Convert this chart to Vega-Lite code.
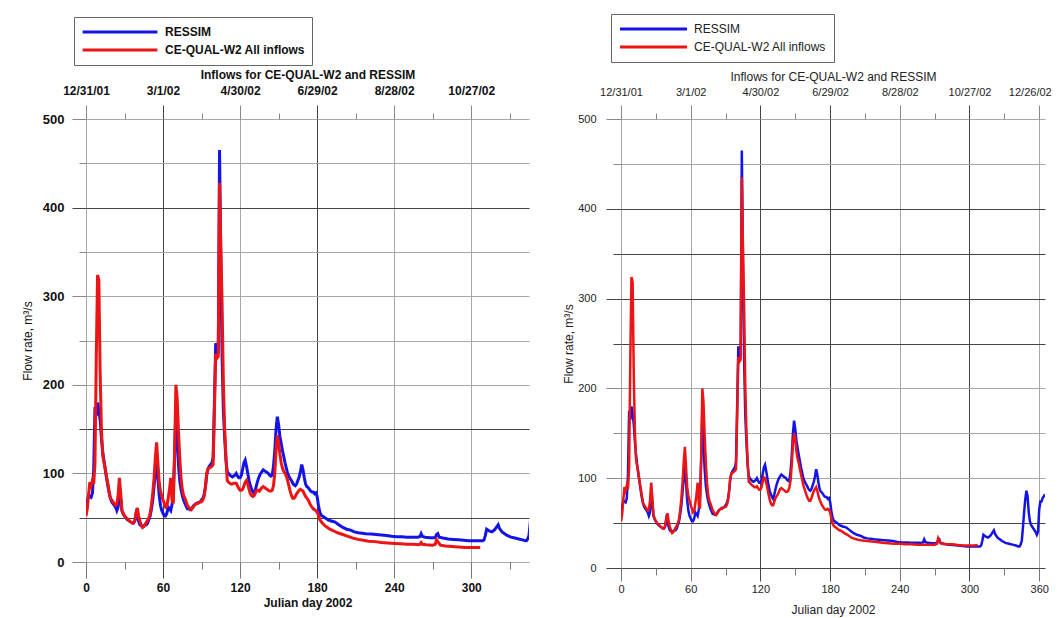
{
"$schema": "https://vega.github.io/schema/vega-lite/v6.json",
"background": "white",
"padding": {"left": 21, "top": 13, "right": 5, "bottom": 5},
"spacing": 33,
"config": {"view": {"stroke": null}, "font": "Liberation Sans"},
"resolve": {"scale": {"color": "independent"}, "legend": {"color": "independent"}},
"datasets": {
"ressim": [
{"day":0,"flow":58},{"day":1,"flow":68},{"day":2,"flow":75},{"day":3,"flow":74},{"day":4,"flow":73},{"day":5,"flow":78},{"day":6,"flow":104},{"day":7,"flow":175},{"day":8,"flow":165},{"day":9,"flow":180},{"day":10,"flow":172},{"day":11,"flow":160},{"day":12,"flow":140},{"day":13,"flow":125},{"day":14,"flow":114},{"day":15,"flow":104},{"day":16,"flow":95},{"day":17,"flow":86},{"day":18,"flow":78},{"day":19,"flow":72},{"day":20,"flow":68},{"day":21,"flow":66},{"day":22,"flow":64},{"day":23,"flow":62},{"day":24,"flow":58},{"day":25,"flow":62},{"day":26,"flow":85},{"day":27,"flow":72},{"day":28,"flow":58},{"day":29,"flow":54},{"day":30,"flow":52},{"day":31,"flow":50},{"day":32,"flow":48},{"day":33,"flow":47},{"day":34,"flow":46},{"day":35,"flow":45},{"day":36,"flow":44},{"day":37,"flow":44},{"day":38,"flow":46},{"day":39,"flow":55},{"day":40,"flow":52},{"day":41,"flow":46},{"day":42,"flow":42},{"day":43,"flow":41},{"day":44,"flow":40},{"day":45,"flow":41},{"day":46,"flow":42},{"day":47,"flow":42},{"day":48,"flow":44},{"day":49,"flow":48},{"day":50,"flow":52},{"day":51,"flow":60},{"day":52,"flow":70},{"day":53,"flow":85},{"day":54,"flow":100},{"day":55,"flow":115},{"day":56,"flow":95},{"day":57,"flow":75},{"day":58,"flow":64},{"day":59,"flow":58},{"day":60,"flow":55},{"day":61,"flow":52},{"day":62,"flow":52},{"day":63,"flow":55},{"day":64,"flow":62},{"day":65,"flow":60},{"day":66,"flow":58},{"day":67,"flow":65},{"day":68,"flow":80},{"day":69,"flow":120},{"day":70,"flow":175},{"day":71,"flow":140},{"day":72,"flow":110},{"day":73,"flow":92},{"day":74,"flow":82},{"day":75,"flow":75},{"day":76,"flow":70},{"day":77,"flow":66},{"day":78,"flow":63},{"day":79,"flow":60},{"day":80,"flow":60},{"day":81,"flow":59},{"day":82,"flow":60},{"day":83,"flow":62},{"day":84,"flow":64},{"day":85,"flow":65},{"day":86,"flow":66},{"day":87,"flow":67},{"day":88,"flow":67},{"day":89,"flow":68},{"day":90,"flow":70},{"day":91,"flow":72},{"day":92,"flow":76},{"day":93,"flow":85},{"day":94,"flow":98},{"day":95,"flow":105},{"day":96,"flow":108},{"day":97,"flow":110},{"day":98,"flow":112},{"day":99,"flow":118},{"day":100,"flow":180},{"day":101,"flow":247},{"day":102,"flow":240},{"day":103,"flow":235},{"day":104,"flow":465},{"day":105,"flow":340},{"day":106,"flow":230},{"day":107,"flow":170},{"day":108,"flow":140},{"day":109,"flow":115},{"day":110,"flow":102},
{"day":111,"flow":100},{"day":112,"flow":98},{"day":113,"flow":97},{"day":114,"flow":96},{"day":115,"flow":97},{"day":116,"flow":98},{"day":117,"flow":100},{"day":118,"flow":97},{"day":119,"flow":95},{"day":120,"flow":95},{"day":121,"flow":98},{"day":122,"flow":105},{"day":123,"flow":112},{"day":124,"flow":115},{"day":125,"flow":108},{"day":126,"flow":100},{"day":127,"flow":92},{"day":128,"flow":86},{"day":129,"flow":82},{"day":130,"flow":79},{"day":131,"flow":77},{"day":132,"flow":82},{"day":133,"flow":88},{"day":134,"flow":93},{"day":135,"flow":97},{"day":136,"flow":100},{"day":137,"flow":102},{"day":138,"flow":104},{"day":139,"flow":103},{"day":140,"flow":102},{"day":141,"flow":101},{"day":142,"flow":100},{"day":143,"flow":98},{"day":144,"flow":97},{"day":145,"flow":98},{"day":146,"flow":108},{"day":147,"flow":125},{"day":148,"flow":150},{"day":149,"flow":164},{"day":150,"flow":155},{"day":151,"flow":142},{"day":152,"flow":134},{"day":153,"flow":126},{"day":154,"flow":119},{"day":155,"flow":112},{"day":156,"flow":106},{"day":157,"flow":100},{"day":158,"flow":97},{"day":159,"flow":94},{"day":160,"flow":92},{"day":161,"flow":89},{"day":162,"flow":87},{"day":163,"flow":86},{"day":164,"flow":88},{"day":165,"flow":92},{"day":166,"flow":96},{"day":167,"flow":102},{"day":168,"flow":110},{"day":169,"flow":104},{"day":170,"flow":95},{"day":171,"flow":88},{"day":172,"flow":85},{"day":173,"flow":84},{"day":174,"flow":82},{"day":175,"flow":80},{"day":176,"flow":79},{"day":177,"flow":79},{"day":178,"flow":77},{"day":179,"flow":78},{"day":180,"flow":74},{"day":181,"flow":64},{"day":182,"flow":57},{"day":183,"flow":53},{"day":184,"flow":52},{"day":185,"flow":51},{"day":186,"flow":50},{"day":187,"flow":49},{"day":188,"flow":48},{"day":189,"flow":47},{"day":190,"flow":47},{"day":191,"flow":46},{"day":192,"flow":46},{"day":194,"flow":45},{"day":196,"flow":43},{"day":198,"flow":41},{"day":200,"flow":39},{"day":203,"flow":37},{"day":206,"flow":36},{"day":209,"flow":34},{"day":212,"flow":33},{"day":215,"flow":32.5},{"day":218,"flow":32},{"day":222,"flow":31.5},{"day":226,"flow":31},{"day":230,"flow":30.5},{"day":234,"flow":30},{"day":238,"flow":29},{"day":242,"flow":28.5},{"day":246,"flow":28.5},{"day":250,"flow":28},{"day":254,"flow":28},{"day":258,"flow":28},{"day":260,"flow":28.5},{"day":261,"flow":32},{"day":262,"flow":29},{"day":264,"flow":28},{"day":268,"flow":27.5},{"day":272,"flow":27.5},{"day":273,"flow":31},{"day":274,"flow":32},{"day":275,"flow":28},{"day":278,"flow":27},{"day":282,"flow":26},{"day":286,"flow":25.5},{"day":290,"flow":25},{"day":294,"flow":24.5},{"day":298,"flow":24},{"day":302,"flow":24},{"day":306,"flow":24},{"day":309,"flow":24},{"day":310,"flow":25},{"day":311,"flow":30},{"day":312,"flow":37},{"day":313,"flow":36},{"day":314,"flow":35},{"day":316,"flow":34},{"day":318,"flow":36},{"day":320,"flow":40},{"day":321,"flow":42},{"day":322,"flow":38},{"day":324,"flow":34},{"day":326,"flow":32},{"day":328,"flow":30},{"day":331,"flow":28},{"day":334,"flow":27},{"day":337,"flow":26},{"day":340,"flow":25},{"day":342,"flow":24},{"day":343,"flow":24},{"day":344,"flow":26},{"day":345,"flow":30},{"day":346,"flow":45},{"day":347,"flow":62},{"day":348,"flow":76},{"day":349,"flow":86},{"day":350,"flow":80},{"day":351,"flow":62},{"day":352,"flow":52},{"day":353,"flow":48},{"day":355,"flow":44},{"day":357,"flow":40},{"day":358,"flow":37},{"day":359,"flow":40},{"day":360,"flow":65},{"day":361,"flow":74},{"day":362,"flow":74},{"day":363,"flow":78},{"day":365,"flow":82}
],
"w2_left": [
{"day":0,"flow":52},{"day":1,"flow":60},{"day":2,"flow":76},{"day":3,"flow":90},{"day":4,"flow":86},{"day":5,"flow":92},{"day":6,"flow":88},{"day":7,"flow":112},{"day":8,"flow":230},{"day":9,"flow":324},{"day":10,"flow":318},{"day":11,"flow":215},{"day":12,"flow":150},{"day":13,"flow":120},{"day":14,"flow":113},{"day":15,"flow":106},{"day":16,"flow":96},{"day":17,"flow":89},{"day":18,"flow":80},{"day":19,"flow":72},{"day":20,"flow":70},{"day":21,"flow":68},{"day":22,"flow":66},{"day":23,"flow":64},{"day":24,"flow":65},{"day":25,"flow":75},{"day":26,"flow":95},{"day":27,"flow":78},{"day":28,"flow":58},{"day":29,"flow":55},{"day":30,"flow":52},{"day":31,"flow":50},{"day":32,"flow":49},{"day":33,"flow":48},{"day":34,"flow":46},{"day":35,"flow":45},{"day":36,"flow":44},{"day":37,"flow":44},{"day":38,"flow":47},{"day":39,"flow":55},{"day":40,"flow":61},{"day":41,"flow":52},{"day":42,"flow":46},{"day":43,"flow":42},{"day":44,"flow":39},{"day":45,"flow":40},{"day":46,"flow":42},{"day":47,"flow":45},{"day":48,"flow":47},{"day":49,"flow":50},{"day":50,"flow":55},{"day":51,"flow":65},{"day":52,"flow":78},{"day":53,"flow":95},{"day":54,"flow":118},{"day":55,"flow":135},{"day":56,"flow":112},{"day":57,"flow":90},{"day":58,"flow":80},{"day":59,"flow":75},{"day":60,"flow":70},{"day":61,"flow":66},{"day":62,"flow":62},{"day":63,"flow":63},{"day":64,"flow":72},{"day":65,"flow":82},{"day":66,"flow":95},{"day":67,"flow":70},{"day":68,"flow":66},{"day":69,"flow":120},{"day":70,"flow":200},{"day":71,"flow":185},{"day":72,"flow":148},{"day":73,"flow":118},{"day":74,"flow":95},{"day":75,"flow":82},{"day":76,"flow":75},{"day":77,"flow":72},{"day":78,"flow":68},{"day":79,"flow":64},{"day":80,"flow":62},{"day":81,"flow":60},{"day":82,"flow":59},{"day":83,"flow":61},{"day":84,"flow":63},{"day":85,"flow":65},{"day":86,"flow":66},{"day":87,"flow":66},{"day":88,"flow":67},{"day":89,"flow":68},{"day":90,"flow":68},{"day":91,"flow":70},{"day":92,"flow":74},{"day":93,"flow":84},{"day":94,"flow":100},{"day":95,"flow":105},{"day":96,"flow":106},{"day":97,"flow":107},{"day":98,"flow":108},{"day":99,"flow":110},{"day":100,"flow":170},{"day":101,"flow":235},{"day":102,"flow":230},{"day":103,"flow":232},{"day":104,"flow":428},{"day":105,"flow":355},{"day":106,"flow":290},{"day":107,"flow":200},{"day":108,"flow":150},{"day":109,"flow":118},
{"day":110,"flow":92},{"day":111,"flow":90},{"day":112,"flow":89},{"day":113,"flow":88},{"day":114,"flow":88},{"day":115,"flow":89},{"day":116,"flow":89},{"day":117,"flow":89},{"day":118,"flow":86},{"day":119,"flow":83},{"day":120,"flow":81},{"day":121,"flow":81},{"day":122,"flow":82},{"day":123,"flow":86},{"day":124,"flow":90},{"day":125,"flow":92},{"day":126,"flow":88},{"day":127,"flow":82},{"day":128,"flow":77},{"day":129,"flow":75},{"day":130,"flow":74},{"day":131,"flow":75},{"day":132,"flow":78},{"day":133,"flow":81},{"day":134,"flow":81},{"day":135,"flow":80},{"day":136,"flow":82},{"day":137,"flow":84},{"day":138,"flow":85},{"day":139,"flow":84},{"day":140,"flow":83},{"day":141,"flow":82},{"day":142,"flow":81},{"day":143,"flow":80},{"day":144,"flow":80},{"day":145,"flow":81},{"day":146,"flow":86},{"day":147,"flow":100},{"day":148,"flow":125},{"day":149,"flow":143},{"day":150,"flow":135},{"day":151,"flow":122},{"day":152,"flow":112},{"day":153,"flow":106},{"day":154,"flow":102},{"day":155,"flow":100},{"day":156,"flow":97},{"day":157,"flow":92},{"day":158,"flow":86},{"day":159,"flow":80},{"day":160,"flow":75},{"day":161,"flow":72},{"day":162,"flow":72},{"day":163,"flow":74},{"day":164,"flow":77},{"day":165,"flow":79},{"day":166,"flow":81},{"day":167,"flow":82},{"day":168,"flow":81},{"day":169,"flow":80},{"day":170,"flow":77},{"day":171,"flow":74},{"day":172,"flow":72},{"day":173,"flow":70},{"day":174,"flow":67},{"day":175,"flow":64},{"day":176,"flow":62},{"day":177,"flow":60},{"day":178,"flow":59},{"day":179,"flow":58},{"day":180,"flow":56},{"day":181,"flow":53},{"day":182,"flow":48},{"day":184,"flow":44},{"day":186,"flow":41},{"day":188,"flow":39},{"day":190,"flow":37},{"day":193,"flow":35},{"day":196,"flow":33},{"day":200,"flow":31},{"day":204,"flow":29},{"day":208,"flow":27},{"day":212,"flow":25.5},{"day":216,"flow":24.5},{"day":220,"flow":23.5},{"day":225,"flow":23},{"day":230,"flow":22},{"day":235,"flow":21.5},{"day":240,"flow":21},{"day":245,"flow":20.5},{"day":250,"flow":20},{"day":255,"flow":20},{"day":259,"flow":19.5},{"day":260,"flow":20},{"day":261,"flow":22},{"day":262,"flow":20},{"day":265,"flow":19.5},{"day":270,"flow":19},{"day":272,"flow":20},{"day":273,"flow":25},{"day":274,"flow":23},{"day":276,"flow":19},{"day":280,"flow":18},{"day":285,"flow":17.5},{"day":290,"flow":17},{"day":295,"flow":16.5},{"day":300,"flow":16.5},{"day":304,"flow":16.5},{"day":307,"flow":16.5}
],
"w2_right": [
{"day":0,"flow":52},{"day":1,"flow":60},{"day":2,"flow":76},{"day":3,"flow":90},{"day":4,"flow":86},{"day":5,"flow":92},{"day":6,"flow":88},{"day":7,"flow":112},{"day":8,"flow":230},{"day":9,"flow":324},{"day":10,"flow":318},{"day":11,"flow":215},{"day":12,"flow":150},{"day":13,"flow":120},{"day":14,"flow":113},{"day":15,"flow":106},{"day":16,"flow":96},{"day":17,"flow":89},{"day":18,"flow":80},{"day":19,"flow":72},{"day":20,"flow":70},{"day":21,"flow":68},{"day":22,"flow":66},{"day":23,"flow":64},{"day":24,"flow":65},{"day":25,"flow":75},{"day":26,"flow":95},{"day":27,"flow":78},{"day":28,"flow":58},{"day":29,"flow":55},{"day":30,"flow":52},{"day":31,"flow":50},{"day":32,"flow":49},{"day":33,"flow":48},{"day":34,"flow":46},{"day":35,"flow":45},{"day":36,"flow":44},{"day":37,"flow":44},{"day":38,"flow":47},{"day":39,"flow":55},{"day":40,"flow":61},{"day":41,"flow":52},{"day":42,"flow":46},{"day":43,"flow":42},{"day":44,"flow":39},{"day":45,"flow":40},{"day":46,"flow":42},{"day":47,"flow":45},{"day":48,"flow":47},{"day":49,"flow":50},{"day":50,"flow":55},{"day":51,"flow":65},{"day":52,"flow":78},{"day":53,"flow":95},{"day":54,"flow":118},{"day":55,"flow":135},{"day":56,"flow":112},{"day":57,"flow":90},{"day":58,"flow":80},{"day":59,"flow":75},{"day":60,"flow":70},{"day":61,"flow":66},{"day":62,"flow":62},{"day":63,"flow":63},{"day":64,"flow":72},{"day":65,"flow":82},{"day":66,"flow":95},{"day":67,"flow":70},{"day":68,"flow":66},{"day":69,"flow":120},{"day":70,"flow":200},{"day":71,"flow":185},{"day":72,"flow":148},{"day":73,"flow":118},{"day":74,"flow":95},{"day":75,"flow":82},{"day":76,"flow":75},{"day":77,"flow":72},{"day":78,"flow":68},{"day":79,"flow":64},{"day":80,"flow":62},{"day":81,"flow":60},{"day":82,"flow":59},{"day":83,"flow":61},{"day":84,"flow":63},{"day":85,"flow":65},{"day":86,"flow":66},{"day":87,"flow":66},{"day":88,"flow":67},{"day":89,"flow":68},{"day":90,"flow":68},{"day":91,"flow":70},{"day":92,"flow":74},{"day":93,"flow":84},{"day":94,"flow":100},{"day":95,"flow":105},{"day":96,"flow":106},{"day":97,"flow":107},{"day":98,"flow":108},{"day":99,"flow":110},{"day":100,"flow":170},{"day":101,"flow":235},{"day":102,"flow":230},{"day":103,"flow":232},{"day":104,"flow":435},{"day":105,"flow":355},{"day":106,"flow":290},{"day":107,"flow":200},{"day":108,"flow":150},{"day":109,"flow":118},
{"day":110,"flow":96},{"day":111,"flow":95},{"day":112,"flow":93},{"day":113,"flow":92},{"day":114,"flow":91},{"day":115,"flow":90},{"day":116,"flow":90},{"day":117,"flow":91},{"day":118,"flow":89},{"day":119,"flow":87},{"day":120,"flow":87},{"day":121,"flow":90},{"day":122,"flow":96},{"day":123,"flow":101},{"day":124,"flow":100},{"day":125,"flow":95},{"day":126,"flow":89},{"day":127,"flow":82},{"day":128,"flow":76},{"day":129,"flow":72},{"day":130,"flow":70},{"day":131,"flow":70},{"day":132,"flow":74},{"day":133,"flow":78},{"day":134,"flow":80},{"day":135,"flow":82},{"day":136,"flow":85},{"day":137,"flow":88},{"day":138,"flow":89},{"day":139,"flow":88},{"day":140,"flow":87},{"day":141,"flow":86},{"day":142,"flow":85},{"day":143,"flow":85},{"day":144,"flow":86},{"day":145,"flow":90},{"day":146,"flow":98},{"day":147,"flow":115},{"day":148,"flow":138},{"day":149,"flow":150},{"day":150,"flow":145},{"day":151,"flow":130},{"day":152,"flow":122},{"day":153,"flow":117},{"day":154,"flow":110},{"day":155,"flow":104},{"day":156,"flow":98},{"day":157,"flow":92},{"day":158,"flow":88},{"day":159,"flow":84},{"day":160,"flow":80},{"day":161,"flow":77},{"day":162,"flow":75},{"day":163,"flow":75},{"day":164,"flow":78},{"day":165,"flow":82},{"day":166,"flow":86},{"day":167,"flow":88},{"day":168,"flow":90},{"day":169,"flow":86},{"day":170,"flow":80},{"day":171,"flow":76},{"day":172,"flow":73},{"day":173,"flow":70},{"day":174,"flow":68},{"day":175,"flow":66},{"day":176,"flow":65},{"day":177,"flow":65},{"day":178,"flow":66},{"day":179,"flow":65},{"day":180,"flow":62},{"day":181,"flow":56},{"day":182,"flow":50},{"day":183,"flow":47},{"day":184,"flow":46},{"day":185,"flow":45},{"day":186,"flow":44},{"day":188,"flow":42},{"day":190,"flow":41},{"day":192,"flow":39},{"day":195,"flow":37},{"day":198,"flow":34},{"day":200,"flow":33},{"day":204,"flow":31.5},{"day":208,"flow":30.5},{"day":212,"flow":30},{"day":216,"flow":29.5},{"day":220,"flow":29},{"day":225,"flow":28},{"day":230,"flow":27.5},{"day":235,"flow":27},{"day":240,"flow":27},{"day":245,"flow":26.5},{"day":250,"flow":26.5},{"day":255,"flow":26},{"day":260,"flow":26},{"day":262,"flow":26},{"day":266,"flow":26},{"day":270,"flow":26},{"day":272,"flow":27},{"day":273,"flow":33},{"day":274,"flow":30},{"day":276,"flow":27},{"day":280,"flow":26.5},{"day":285,"flow":26.5},{"day":290,"flow":25.5},{"day":295,"flow":25},{"day":300,"flow":25},{"day":304,"flow":25},{"day":307,"flow":25.5}
]
},
"hconcat": [
{
"width": 443, "height": 443,
"resolve": {"axis": {"x": "independent"}},
"layer": [
{
"data": {"name": "ressim"},
"mark": {"type": "line", "strokeWidth": 3, "clip": true},
"encoding": {
"x": {"field": "day", "type": "quantitative", "scale": {"domain": [0, 345], "nice": false, "zero": false},
 "axis": {"orient": "bottom", "values": [0,30,60,90,120,150,180,210,240,270,300,330], "title": "Julian day 2002",
  "labelExpr": "datum.value % 60 === 0 ? datum.label : ''", "domain": false, "grid": true,
  "gridColor": {"condition": {"test": "datum.value === 60 || datum.value === 180", "value": "#444444"}, "value": "#a8a8a8"},
  "gridOpacity": {"condition": {"test": "datum.value % 60 === 0", "value": 1}, "value": 0},
  "tickSize": {"condition": {"test": "datum.value % 60 === 0", "value": 16}, "value": 7},
  "tickColor": {"condition": {"test": "datum.value === 60 || datum.value === 180", "value": "#444444"}, "value": "#777777"},
  "labelFontSize": 12, "labelFontWeight": "bold", "labelColor": "#111", "labelPadding": 4, "labelFlush": false, "labelOverlap": false,
  "titleFontSize": 12, "titleFontWeight": "bold", "titleColor": "#111", "titlePadding": 4}},
"y": {"field": "flow", "type": "quantitative", "scale": {"domain": [0, 500], "nice": false},
 "axis": {"values": [0,50,100,150,200,250,300,350,400,450,500], "title": "Flow rate, m³/s",
  "labelExpr": "datum.value % 100 === 0 ? datum.label : ''", "domain": false, "grid": true,
  "gridColor": {"condition": {"test": "datum.value === 50 || datum.value === 150 || datum.value === 400", "value": "#444444"}, "value": "#a8a8a8"},
  "tickSize": {"condition": {"test": "datum.value % 100 === 0", "value": 14}, "value": 7},
  "tickColor": {"condition": {"test": "datum.value === 50 || datum.value === 150 || datum.value === 400", "value": "#444444"}, "value": "#888888"},
  "labelFontSize": 13, "labelFontWeight": "bold", "labelColor": "#111", "labelPadding": 8, "labelFlush": false, "labelOverlap": false,
  "titleFontSize": 12, "titleFontWeight": "normal", "titleColor": "#111", "titlePadding": 8}},
"color": {"datum": "RESSIM", "scale": {"domain": ["RESSIM", "CE-QUAL-W2 All inflows"], "range": ["#1414e6", "#ec1414"]},
 "legend": {"orient": "none", "legendX": -12, "legendY": -102, "title": null, "direction": "vertical",
  "symbolType": "stroke", "symbolSize": 5600, "symbolStrokeWidth": 3, "clipHeight": 16, "rowPadding": 2,
  "labelFontSize": 12, "labelFontWeight": "bold", "labelColor": "#111", "labelOffset": 6, "padding": 7,
  "strokeColor": "#666666", "fillColor": "white"}}
}
},
{
"data": {"name": "w2_left"},
"mark": {"type": "line", "strokeWidth": 3, "clip": true},
"encoding": {
"x": {"field": "day", "type": "quantitative", "scale": {"domain": [0, 345], "nice": false, "zero": false},
 "axis": {"orient": "top", "values": [0,30,60,90,120,150,180,210,240,270,300,330], "title": "Inflows for CE-QUAL-W2 and RESSIM",
  "labelExpr": "datum.value === 0 ? '12/31/01' : datum.value === 60 ? '3/1/02' : datum.value === 120 ? '4/30/02' : datum.value === 180 ? '6/29/02' : datum.value === 240 ? '8/28/02' : datum.value === 300 ? '10/27/02' : ''",
  "domain": false, "grid": false,
  "tickSize": {"condition": {"test": "datum.value % 60 === 0", "value": 14}, "value": 6},
  "tickColor": {"condition": {"test": "datum.value === 60 || datum.value === 180", "value": "#444444"}, "value": "#888888"},
  "labelFontSize": 12, "labelFontWeight": "bold", "labelColor": "#111", "labelPadding": 8, "labelFlush": false, "labelOverlap": false,
  "titleFontSize": 12, "titleFontWeight": "bold", "titleColor": "#111", "titlePadding": 3}},
"y": {"field": "flow", "type": "quantitative", "scale": {"domain": [0, 500], "nice": false}},
"color": {"datum": "CE-QUAL-W2 All inflows"}
}
}
]
},
{
"width": 424, "height": 449,
"resolve": {"axis": {"x": "independent"}},
"layer": [
{
"data": {"name": "ressim"},
"mark": {"type": "line", "strokeWidth": 2.5, "clip": true},
"encoding": {
"x": {"field": "day", "type": "quantitative", "scale": {"domain": [0, 365], "nice": false, "zero": false},
 "axis": {"orient": "bottom", "values": [0,30,60,90,120,150,180,210,240,270,300,330,360], "title": "Julian day 2002",
  "labelExpr": "datum.value % 60 === 0 ? datum.label : ''", "domain": false, "grid": true,
  "gridColor": {"condition": {"test": "datum.value === 120 || datum.value === 180 || datum.value === 300", "value": "#444444"}, "value": "#a8a8a8"},
  "gridOpacity": {"condition": {"test": "datum.value % 60 === 0", "value": 1}, "value": 0},
  "tickSize": {"condition": {"test": "datum.value % 60 === 0", "value": 13}, "value": 7},
  "tickColor": {"condition": {"test": "datum.value === 120 || datum.value === 180 || datum.value === 300", "value": "#444444"}, "value": "#777777"},
  "labelFontSize": 11, "labelColor": "#222", "labelPadding": 2, "labelFlush": false, "labelOverlap": false,
  "titleFontSize": 12, "titleFontWeight": "normal", "titleColor": "#222", "titlePadding": 10}},
"y": {"field": "flow", "type": "quantitative", "scale": {"domain": [0, 500], "nice": false},
 "axis": {"values": [0,50,100,150,200,250,300,350,400,450,500], "title": "Flow rate, m³/s",
  "labelExpr": "datum.value % 100 === 0 ? datum.label : ''", "domain": false, "grid": true,
  "gridColor": {"condition": {"test": "datum.value === 0 || datum.value === 50 || datum.value === 250 || datum.value === 300 || datum.value === 350 || datum.value === 400", "value": "#444444"}, "value": "#a8a8a8"},
  "tickSize": {"condition": {"test": "datum.value % 100 === 0", "value": 15}, "value": 8},
  "tickColor": {"condition": {"test": "datum.value === 0 || datum.value === 50 || datum.value === 250 || datum.value === 300 || datum.value === 350 || datum.value === 400", "value": "#444444"}, "value": "#888888"},
  "labelFontSize": 11, "labelColor": "#222", "labelPadding": 10, "labelFlush": false, "labelOverlap": false,
  "titleFontSize": 12, "titleFontWeight": "normal", "titleColor": "#222", "titlePadding": 2}},
"color": {"datum": "RESSIM", "scale": {"domain": ["RESSIM", "CE-QUAL-W2 All inflows"], "range": ["#1414e6", "#ec1414"]},
 "legend": {"orient": "none", "legendX": -10, "legendY": -105, "title": null, "direction": "vertical",
  "symbolType": "stroke", "symbolSize": 4500, "symbolStrokeWidth": 3, "clipHeight": 16, "rowPadding": 2,
  "labelFontSize": 12, "labelColor": "#222", "labelOffset": 5, "padding": 7,
  "strokeColor": "#666666", "fillColor": "white"}}
}
},
{
"data": {"name": "w2_right"},
"mark": {"type": "line", "strokeWidth": 2.5, "clip": true},
"encoding": {
"x": {"field": "day", "type": "quantitative", "scale": {"domain": [0, 365], "nice": false, "zero": false},
 "axis": {"orient": "top", "values": [0,30,60,90,120,150,180,210,240,270,300,330,360], "title": "Inflows for CE-QUAL-W2 and RESSIM",
  "labelExpr": "datum.value === 0 ? '12/31/01' : datum.value === 60 ? '3/1/02' : datum.value === 120 ? '4/30/02' : datum.value === 180 ? '6/29/02' : datum.value === 240 ? '8/28/02' : datum.value === 300 ? '10/27/02' : datum.value === 360 ? '12/26/02' : ''",
  "domain": false, "grid": false,
  "tickSize": {"condition": {"test": "datum.value % 60 === 0", "value": 14}, "value": 6},
  "tickColor": {"condition": {"test": "datum.value === 120 || datum.value === 180 || datum.value === 300", "value": "#444444"}, "value": "#888888"},
  "labelAlign": {"condition": {"test": "datum.value === 360", "value": "right"}, "value": "center"},
  "labelOffset": {"condition": {"test": "datum.value === 360", "value": 12}, "value": 0},
  "labelFontSize": 11, "labelColor": "#222", "labelPadding": 8, "labelFlush": false, "labelOverlap": false,
  "titleFontSize": 12, "titleFontWeight": "normal", "titleColor": "#222", "titlePadding": 3}},
"y": {"field": "flow", "type": "quantitative", "scale": {"domain": [0, 500], "nice": false}},
"color": {"datum": "CE-QUAL-W2 All inflows"}
}
}
]
}
]
}
